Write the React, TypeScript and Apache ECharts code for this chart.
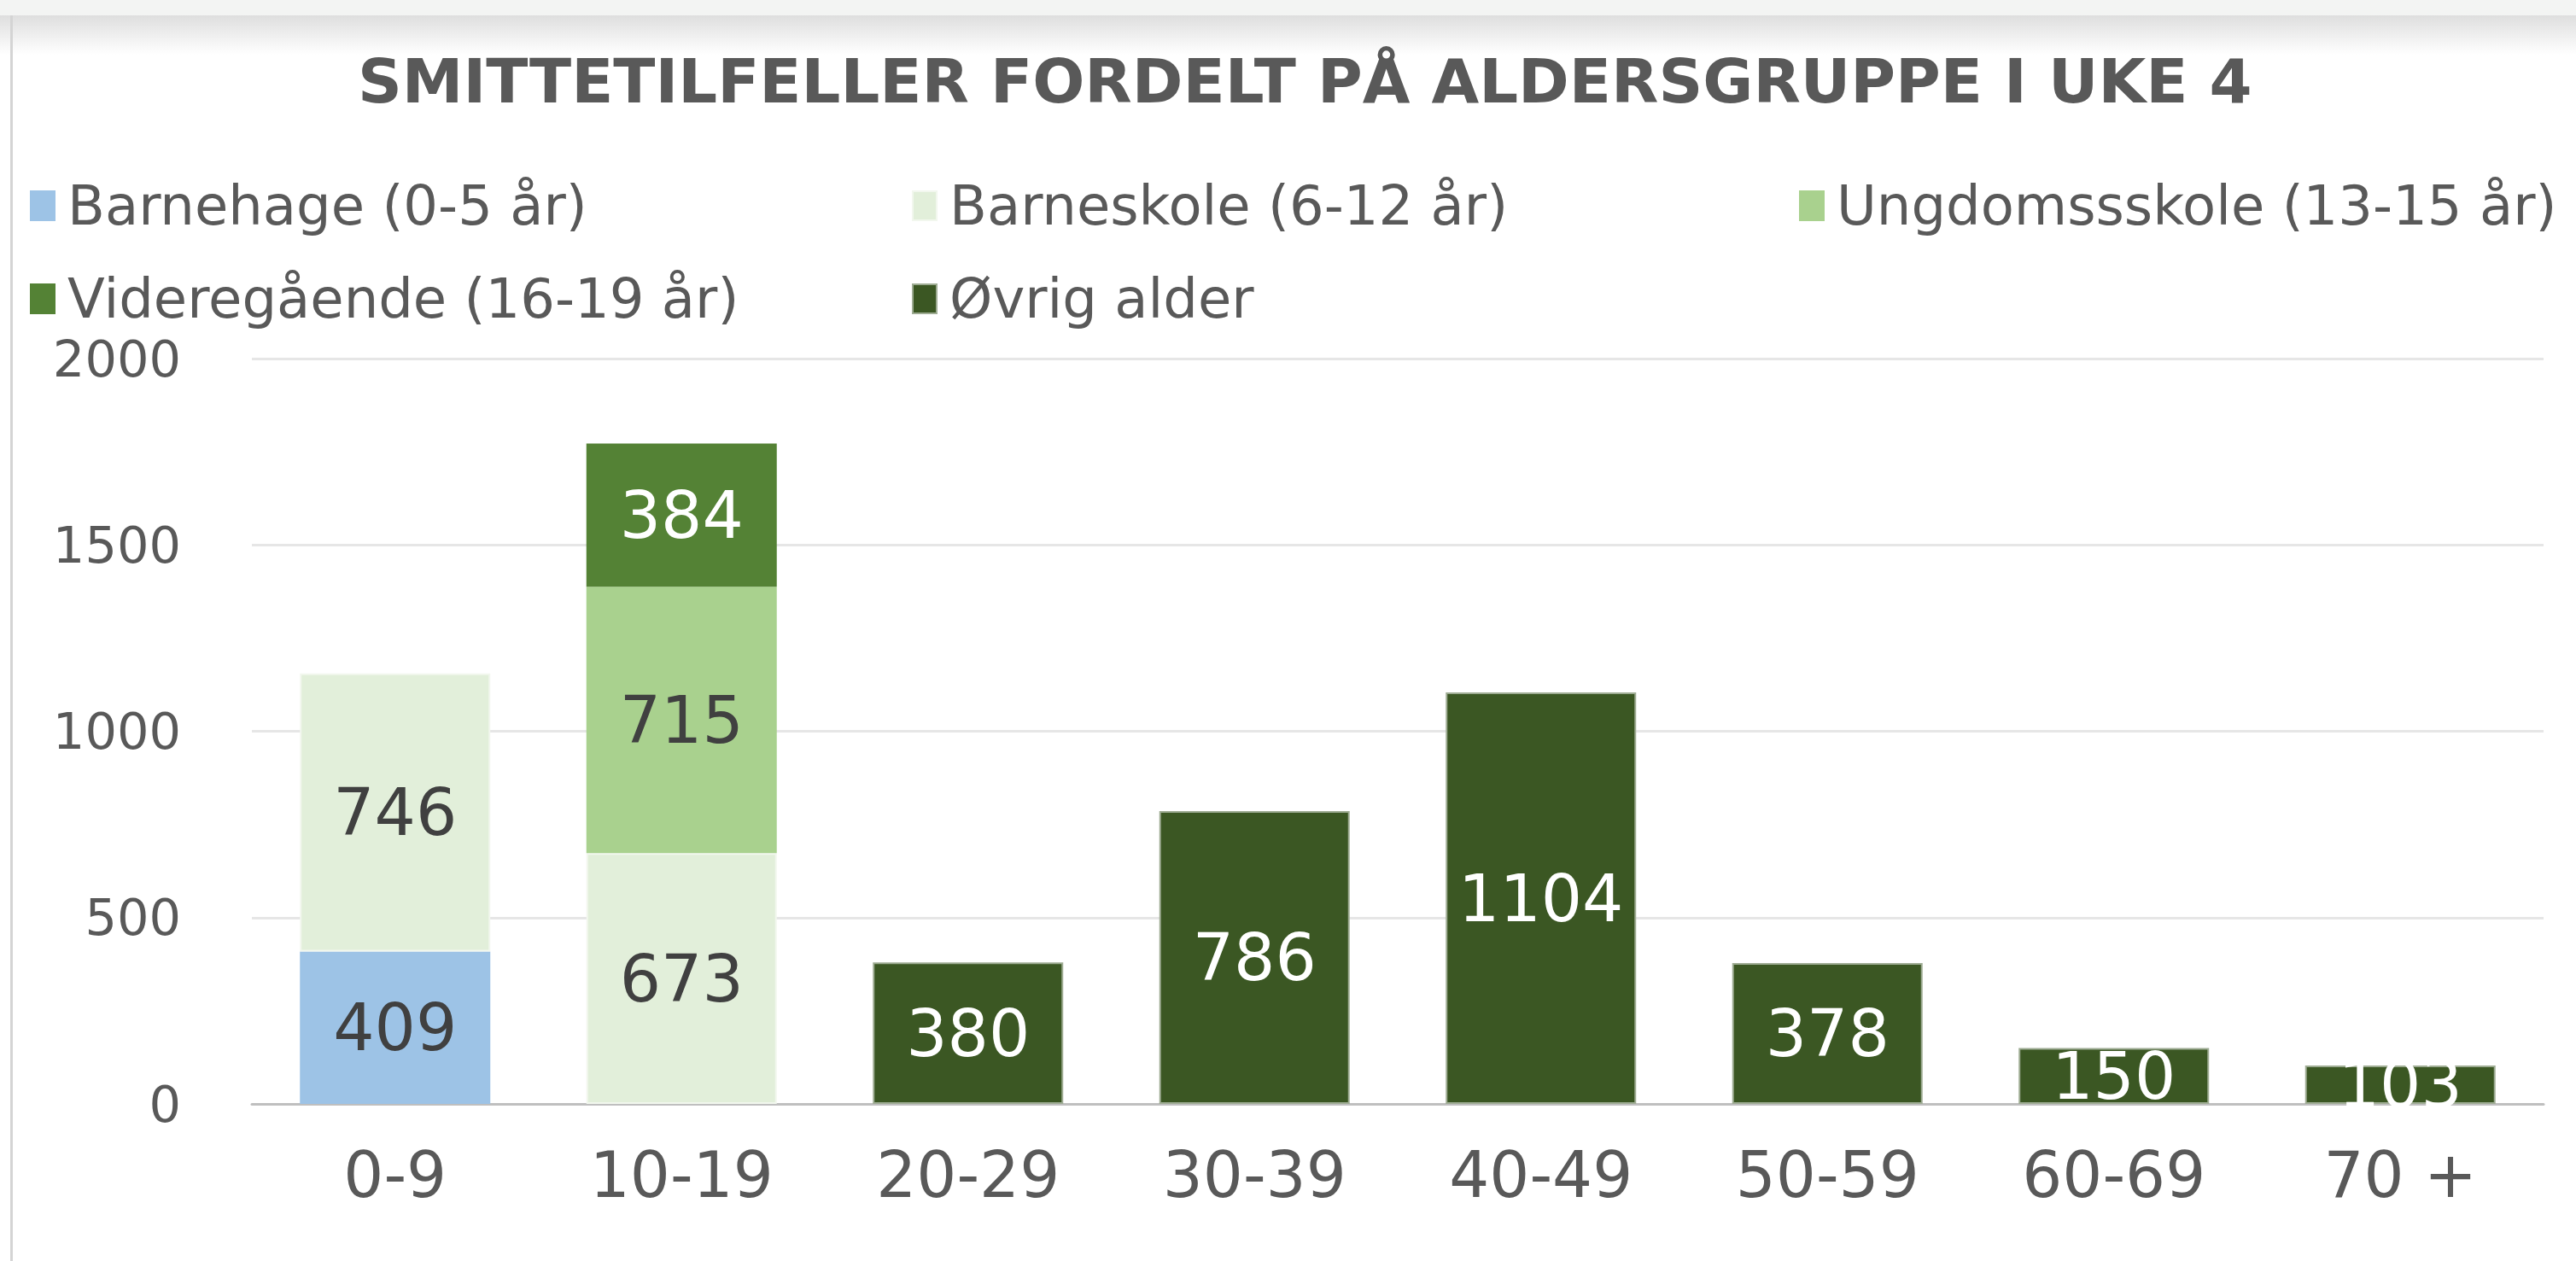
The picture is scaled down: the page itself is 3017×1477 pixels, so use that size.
import React, { useEffect, useRef } from "react";
import * as echarts from "echarts";

const categories = ["0-9", "10-19", "20-29", "30-39", "40-49", "50-59", "60-69", "70 +"];
const seriesNames = [
  "Barnehage (0-5 år)",
  "Barneskole (6-12 år)",
  "Ungdomssskole (13-15 år)",
  "Videregående (16-19 år)",
  "Øvrig alder",
];
const barnehage = [409, null, null, null, null, null, null, null];
const barneskole = [746, 673, null, null, null, null, null, null];
const ungdomsskole = [null, 715, null, null, null, null, null, null];
const videregaende = [null, 384, null, null, null, null, null, null];
const ovrig = [null, null, 380, 786, 1104, 378, 150, 103];
const yTicks = [0, 500, 1000, 1500, 2000];

const seriesValues = [barnehage, barneskole, ungdomsskole, videregaende, ovrig];
const colors = ["#9DC3E6", "#E2EFDA", "#A9D18E", "#548235", "#3B5723"];
const labelColors = ["#404040", "#404040", "#404040", "#FFFFFF", "#FFFFFF"];
const borderColors = ["#9DC3E6", "#F2F7EE", "#A9D18E", "#548235", "#9EAC93"];
const legendPos = [
  { left: 35, top: 209 },
  { left: 1068, top: 209 },
  { left: 2107, top: 209 },
  { left: 35, top: 318 },
  { left: 1068, top: 318 },
];

const FONT = "DejaVu Sans";
const TEXT = "#595959";

export default function App() {
  const ref = useRef<HTMLDivElement>(null);
  useEffect(() => {
    if (!ref.current) return;
    const chart = echarts.init(ref.current, null, { renderer: "svg" });
    chart.setOption({
      animation: false,
      backgroundColor: "#FFFFFF",
      textStyle: { fontFamily: FONT },
      graphic: [
        { type: "rect", z: -10, shape: { x: 0, y: 0, width: 3017, height: 18 }, style: { fill: "#F3F4F3" } },
        {
          type: "rect",
          z: -10,
          shape: { x: 0, y: 18, width: 3017, height: 46 },
          style: {
            fill: new echarts.graphic.LinearGradient(0, 0, 0, 1, [
              { offset: 0, color: "#DEDEDE" },
              { offset: 1, color: "#FFFFFF" },
            ]),
          },
        },
        { type: "rect", z: -9, shape: { x: 12, y: 18, width: 3, height: 1459 }, style: { fill: "#D4D4D4" } },
      ],
      title: {
        text: "SMITTETILFELLER FORDELT PÅ ALDERSGRUPPE I UKE 4",
        left: 414,
        top: 54,
        textStyle: { fontFamily: FONT, fontSize: 72, fontWeight: "bold", color: TEXT },
      },
      legend: seriesNames.map((n, i) => ({
        data: [n],
        left: legendPos[i].left,
        top: legendPos[i].top,
        itemWidth: 28,
        itemHeight: 34,
        itemGap: 0,
        padding: 0,
        icon: "rect",
        textStyle: {
          fontFamily: FONT,
          fontSize: 64,
          lineHeight: 62,
          color: TEXT,
          padding: [0, 0, 0, 10],
        },
      })),
      grid: { left: 295, right: 38, top: 420, bottom: 184, containLabel: false },
      xAxis: {
        type: "category",
        data: categories,
        axisLine: { lineStyle: { color: "#BFBFBF", width: 3 } },
        axisTick: { show: false },
        axisLabel: { fontFamily: FONT, fontSize: 74, color: TEXT, margin: 46 },
      },
      yAxis: {
        type: "value",
        min: yTicks[0],
        max: yTicks[yTicks.length - 1],
        interval: 500,
        axisLine: { show: false },
        axisTick: { show: false },
        axisLabel: {
          fontFamily: FONT,
          fontSize: 59,
          lineHeight: 56,
          color: TEXT,
          margin: 83,
          formatter: (v: number) => String(v),
        },
        splitLine: { lineStyle: { color: "#E6E6E6", width: 3 } },
      },
      series: seriesNames.map((n, i) => ({
        name: n,
        type: "bar",
        stack: "total",
        barWidth: 223,
        data: seriesValues[i],
        itemStyle: { color: colors[i], borderColor: borderColors[i], borderWidth: 2 },
        label: {
          show: true,
          position: "inside",
          fontFamily: FONT,
          fontSize: 76,
          color: labelColors[i],
        },
      })),
    });
    return () => chart.dispose();
  }, []);
  return (
    <div
      ref={ref}
      style={{ position: "fixed", left: 0, top: 0, width: 3017, height: 1477 }}
    />
  );
}
